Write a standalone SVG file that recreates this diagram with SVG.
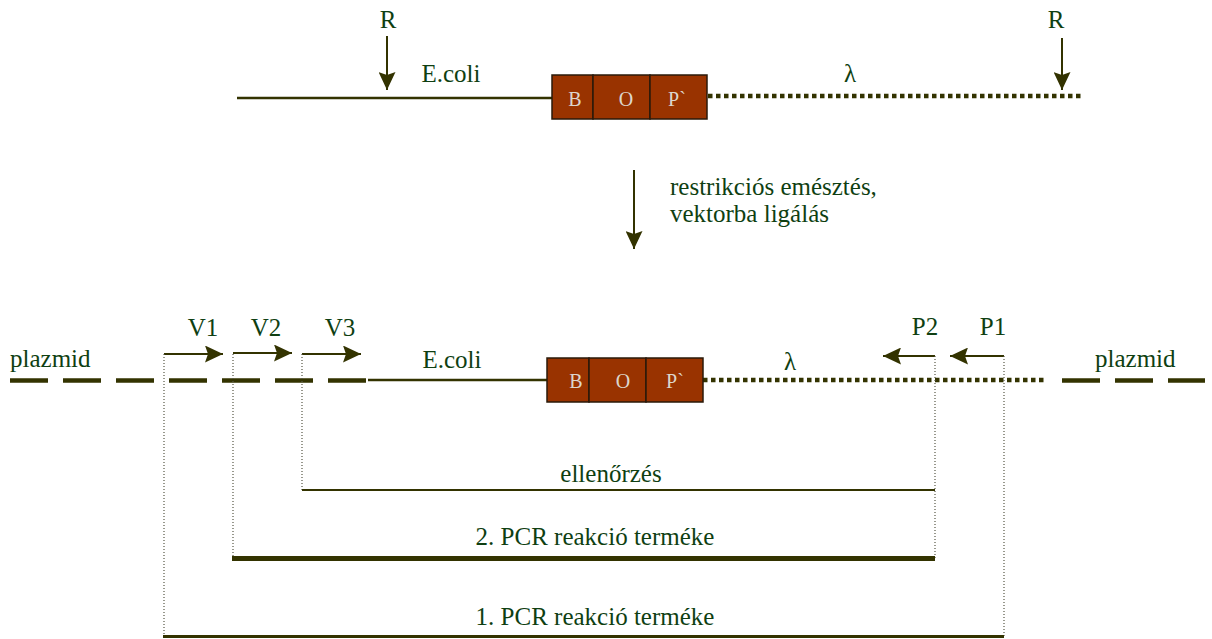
<svg xmlns="http://www.w3.org/2000/svg" width="1212" height="639" viewBox="0 0 1212 639">
  <style>
    .lbl { font-family: "Liberation Serif", "Times New Roman", serif; font-size: 25px; fill: #0f3f12; }
    .gene { font-family: "Liberation Serif", "Times New Roman", serif; font-size: 20px; fill: #ddd6cc; text-anchor: middle; }
    .seg { fill: #993300; stroke: #2a1a0a; stroke-width: 1.5; }
    .dna { stroke: #333300; stroke-width: 2.5; fill: none; }
    .lambda { stroke: #333300; stroke-width: 4.5; stroke-dasharray: 4.5 3.5; fill: none; }
    .vec { stroke: #333300; stroke-width: 4.5; stroke-dasharray: 38 15; fill: none; }
    .arrow { stroke: #333300; stroke-width: 2; fill: none; marker-end: url(#head); }
    .guide { stroke: #555544; stroke-width: 1.2; stroke-dasharray: 1 2; fill: none; }
    .prod { stroke: #333300; fill: none; }
  </style>
  <defs>
    <marker id="head" markerUnits="userSpaceOnUse" markerWidth="18" markerHeight="17" refX="18" refY="8.5" orient="auto">
      <path d="M0,0 L18,8.5 L0,17 L3,8.5 z" fill="#333300"/>
    </marker>
  </defs>
  <rect width="1212" height="639" fill="#ffffff"/>

  <!-- starting construct: E. coli fragment + B O P' + lambda -->
  <g id="source-construct">
    <line class="dna" x1="237" y1="98" x2="552" y2="98"/>
    <line class="lambda" x1="708" y1="96" x2="1084" y2="96"/>
    <text class="lbl" x="451" y="82" text-anchor="middle">E.coli</text>
    <text class="lbl" x="850" y="82" text-anchor="middle">λ</text>
  </g>
  <g id="att-box-top">
    <rect class="seg" x="552" y="75" width="41" height="44"/>
    <rect class="seg" x="593" y="75" width="57" height="44"/>
    <rect class="seg" x="650" y="75" width="57" height="44"/>
    <text class="gene" x="575" y="106">B</text>
    <text class="gene" x="626" y="106">O</text>
    <text class="gene" x="677" y="106">P`</text>
  </g>
  <g id="site-R-left">
    <text class="lbl" x="388" y="28" text-anchor="middle">R</text>
  </g>
  <g id="site-R-right">
    <text class="lbl" x="1056" y="28" text-anchor="middle">R</text>
  </g>

  <!-- step label -->
  <g id="step">
    <text class="lbl" x="670" y="195">restrikciós emésztés,</text>
    <text class="lbl" x="670" y="222">vektorba ligálás</text>
  </g>

  <!-- cloned construct in plasmid -->
  <g id="cloned-construct">
    <path class="vec" d="M10,380.5 H366"/>
    <line class="dna" x1="368" y1="380" x2="547" y2="380"/>
    <line class="lambda" x1="703" y1="380" x2="1046" y2="380"/>
    <path class="vec" d="M1062,380.5 H1205"/>
    <text class="lbl" x="10" y="367">plazmid</text>
    <text class="lbl" x="1095" y="367">plazmid</text>
    <text class="lbl" x="452" y="368" text-anchor="middle">E.coli</text>
    <text class="lbl" x="790" y="370" text-anchor="middle">λ</text>
  </g>
  <g id="att-box-bottom">
    <rect class="seg" x="547" y="358" width="42" height="44"/>
    <rect class="seg" x="589" y="358" width="57" height="44"/>
    <rect class="seg" x="646" y="358" width="57" height="44"/>
    <text class="gene" x="576" y="388">B</text>
    <text class="gene" x="623" y="388">O</text>
    <text class="gene" x="675" y="388">P`</text>
  </g>

  <!-- primers -->
  <g id="primer-V1"><text class="lbl" x="203" y="336" text-anchor="middle">V1</text></g>
  <g id="primer-V2"><text class="lbl" x="266" y="336" text-anchor="middle">V2</text></g>
  <g id="primer-V3"><text class="lbl" x="340" y="336" text-anchor="middle">V3</text></g>
  <g id="primer-P2"><text class="lbl" x="925" y="335" text-anchor="middle">P2</text></g>
  <g id="primer-P1"><text class="lbl" x="993" y="335" text-anchor="middle">P1</text></g>

  <!-- PCR products -->
  <g id="product-check">
    <text class="lbl" x="611" y="482" text-anchor="middle">ellenőrzés</text>
  </g>
  <g id="product-2">
    <text class="lbl" x="595" y="545" text-anchor="middle">2. PCR reakció terméke</text>
  </g>
  <g id="product-1">
    <text class="lbl" x="595" y="625" text-anchor="middle">1. PCR reakció terméke</text>
  </g>

  <g id="connectors">
    <!-- restriction sites -->
    <line class="arrow" x1="387" y1="36" x2="387" y2="90"/>
    <line class="arrow" x1="1062" y1="38" x2="1062" y2="90"/>
    <!-- process step -->
    <line class="arrow" x1="634" y1="170" x2="634" y2="249" stroke-width="3"/>
    <!-- primer directions -->
    <line class="arrow" x1="164" y1="354" x2="223" y2="354"/>
    <line class="arrow" x1="233" y1="353" x2="292" y2="353"/>
    <line class="arrow" x1="302" y1="354" x2="361" y2="354"/>
    <line class="arrow" x1="935" y1="356" x2="883" y2="356"/>
    <line class="arrow" x1="1004" y1="356" x2="950" y2="356"/>
    <!-- primer positions down to products -->
    <line class="guide" x1="164" y1="354" x2="164" y2="637"/>
    <line class="guide" x1="233" y1="354" x2="233" y2="558"/>
    <line class="guide" x1="302" y1="354" x2="302" y2="490"/>
    <line class="guide" x1="935" y1="356" x2="935" y2="558"/>
    <line class="guide" x1="1004" y1="356" x2="1004" y2="637"/>
    <!-- amplified regions -->
    <line class="prod" x1="302" y1="490" x2="935" y2="490" stroke-width="2" stroke="#5a5a30"/>
    <line class="prod" x1="232" y1="558.5" x2="935" y2="558.5" stroke-width="5"/>
    <line class="prod" x1="163" y1="636.5" x2="1004" y2="636.5" stroke-width="3"/>
  </g>
</svg>
